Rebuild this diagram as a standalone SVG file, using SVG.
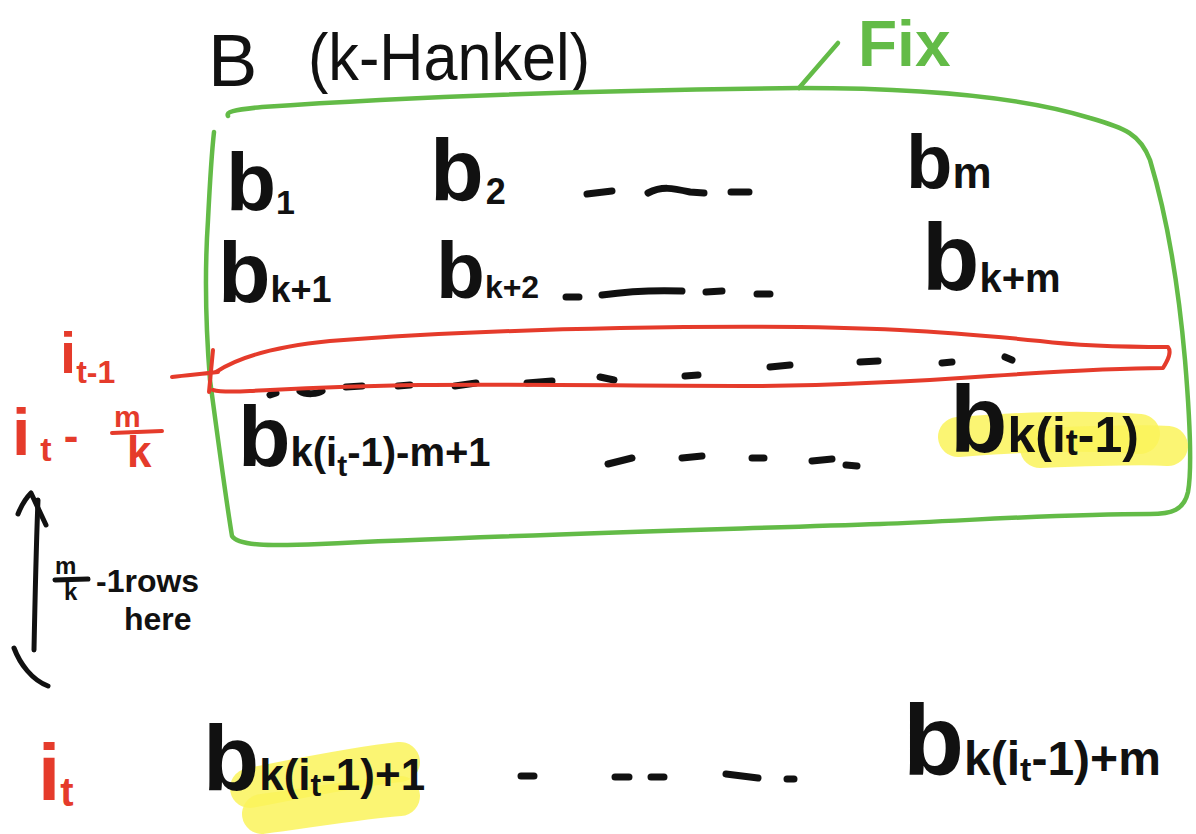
<svg xmlns="http://www.w3.org/2000/svg" width="1196" height="834" viewBox="0 0 1196 834">
  <style>
    .ink { font-family: "Liberation Sans", "DejaVu Sans", sans-serif; font-weight: bold; fill: #111; }
    .thin { font-weight: normal; }
    .red { fill: #e53b2b; }
    .grn { fill: #63bb47; }
    .dash { stroke: #111; stroke-width: 7; stroke-linecap: round; fill: none; }
    .gline { stroke: #63bb47; stroke-width: 4.5; stroke-linecap: round; stroke-linejoin: round; fill: none; }
    .rline { stroke: #e53b2b; stroke-width: 4; stroke-linecap: round; stroke-linejoin: round; fill: none; }
    .kline { stroke: #111; stroke-width: 5; stroke-linecap: round; stroke-linejoin: round; fill: none; }
    .hl { stroke: #faf35a; stroke-width: 40; stroke-linecap: round; fill: none; opacity: 0.85; }
  </style>
  <rect width="1196" height="834" fill="#fff"/>

  <!-- title -->
  <g id="title">
    <text class="ink thin" x="208" y="86" font-size="74">B</text>
    <text class="ink thin" x="308" y="80" font-size="66" textLength="282" lengthAdjust="spacingAndGlyphs">(k-Hankel)</text>
  </g>

  <!-- fixed block of rows -->
  <g id="fix-block">
    <path class="gline" d="M228,116 C226,112 232,110 262,107 C420,96 620,90 800,88 C920,88 1020,96 1090,118 C1125,128 1140,134 1150,160 C1165,210 1178,280 1185,360 C1190,420 1192,470 1188,492 C1184,510 1172,514 1150,514 C1060,514 980,520 880,524 C700,530 480,536 320,544 C270,546 238,546 232,536 C226,500 218,440 210,380 C206,330 204,280 208,220 C210,180 212,150 214,132"/>
    <text class="ink grn" x="858" y="66" font-size="64">Fix</text>
  </g>

  <!-- highlighted last row of block -->
  <g id="hl-top">
    <path class="hl" d="M958,437 C1020,432 1090,430 1140,434"/>
    <path class="hl" d="M1040,448 C1090,446 1140,444 1168,446"/>
  </g>
  <g id="hl-bottom">
    <path class="hl" d="M250,788 C300,778 360,766 400,762"/>
    <path class="hl" d="M262,814 C320,806 370,798 400,796"/>
  </g>

  <!-- row 1 -->
  <g id="row-1">
    <text class="ink" x="226" y="210" font-size="82">b<tspan font-size="34" dy="4">1</tspan></text>
    <text class="ink" x="430" y="200" font-size="88">b<tspan font-size="36" dx="2" dy="4">2</tspan></text>
    <path class="dash" d="M587,194 L612,191 M648,193 C662,186 672,188 690,192 L704,193 M731,192 L749,192"/>
    <text class="ink" x="906" y="188" font-size="76">b<tspan font-size="44">m</tspan></text>
  </g>

  <!-- row 2 -->
  <g id="row-2">
    <text class="ink" x="218" y="302" font-size="86">b<tspan font-size="36">k+1</tspan></text>
    <text class="ink" x="436" y="298" font-size="80">b<tspan font-size="32">k+2</tspan></text>
    <path class="dash" d="M566,297 L579,297 M602,295 C630,291 655,290 682,291 M706,292 L722,291 M757,294 L770,294"/>
    <text class="ink" x="922" y="290" font-size="94">b<tspan font-size="40" dy="2">k+m</tspan></text>
  </g>

  <!-- row i_{t-1} (circled in red) -->
  <g id="row-prev">
    <path class="dash" d="M270,395 L276,393 M300,391 C306,395 318,394 322,391 M346,387 L362,386 M398,386 L410,385 M455,386 L476,383 M527,383 L552,381 M600,377 L614,380 M685,376 L698,375 M770,367 L790,365 M860,362 L878,361 M942,363 L952,362 M1005,357 L1012,360"/>
    <path class="rline" d="M216,372 C240,356 280,346 330,341 C420,334 520,330 620,328 C720,326 820,326 900,330 C960,333 1000,337 1040,341 C1080,346 1130,347 1168,347 C1172,352 1168,360 1163,368 C1110,368 1050,372 990,376 C920,381 850,385 760,386 C640,386 520,384 420,385 C340,386 290,389 250,391 C232,392 220,392 213,390"/>
    <path class="rline" d="M213,350 L209,392 M172,377 C188,375 202,374 218,372"/>
    <text class="ink red" x="60" y="373" font-size="58">i<tspan font-size="32" dy="10">t-1</tspan></text>
  </g>

  <!-- row i_t - m/k -->
  <g id="row-start">
    <text class="ink" x="238" y="466" font-size="86">b<tspan font-size="40">k(i</tspan><tspan font-size="30" dy="10">t</tspan><tspan font-size="40" dy="-10">-1)-m+1</tspan></text>
    <path class="dash" d="M608,464 L632,458 M682,458 L702,456 M752,458 L764,458 M812,461 L832,459 M846,465 L857,466"/>
    <text class="ink" x="950" y="452" font-size="94">b<tspan font-size="50">k(i</tspan><tspan font-size="36" dy="3">t</tspan><tspan font-size="50" dy="-3">-1)</tspan></text>
    <text class="ink red" x="12" y="455" font-size="66">i<tspan font-size="34" dy="6" dx="10">t</tspan><tspan font-size="44" dy="-10" dx="12">-</tspan></text>
    <text class="ink red" x="114" y="427" font-size="30">m</text>
    <path class="rline" d="M112,433 L162,431" stroke-width="5"/>
    <text class="ink red" x="127" y="467" font-size="44">k</text>
  </g>

  <!-- row i_t -->
  <g id="row-current">
    <text class="ink" x="203" y="790" font-size="92">b<tspan font-size="44">k(i</tspan><tspan font-size="32" dy="6">t</tspan><tspan font-size="44" dy="-6">-1)+1</tspan></text>
    <path class="dash" d="M521,776 L534,776 M615,777 L629,777 M651,777 L664,777 M726,774 L758,778 M787,779 L794,779"/>
    <text class="ink" x="903" y="775" font-size="100">b<tspan font-size="48">k(i</tspan><tspan font-size="34" dy="6">t</tspan><tspan font-size="48" dy="-6">-1)+m</tspan></text>
    <text class="ink red" x="38" y="800" font-size="80">i<tspan font-size="40" dy="6">t</tspan></text>
  </g>

  <!-- note on the gap -->
  <g id="gap-note">
    <text class="ink" x="55" y="574" font-size="24">m</text>
    <path class="kline" d="M55,580 L88,579" stroke-width="4"/>
    <text class="ink" x="64" y="600" font-size="24">k</text>
    <text class="ink" x="96" y="592" font-size="32">-1rows</text>
    <text class="ink" x="124" y="630" font-size="32">here</text>
  </g>

  <!-- connectors -->
  <g id="connectors">
    <path class="gline" d="M799,88 L838,43"/>
    <path class="kline" d="M38,500 C36,550 35,600 34,650"/>
    <path class="kline" d="M18,514 C22,504 28,496 31,493 L46,525"/>
    <path class="kline" d="M14,648 C20,664 32,680 48,686"/>
  </g>
</svg>
